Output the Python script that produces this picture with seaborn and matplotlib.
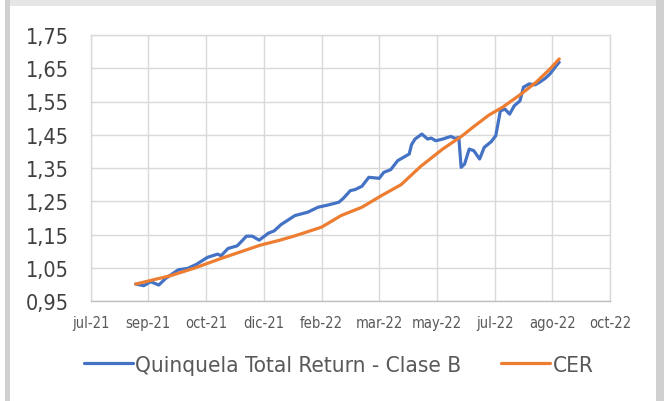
import matplotlib
matplotlib.use("Agg")
import matplotlib.pyplot as plt
from matplotlib.patches import Rectangle
import seaborn as sns
import pandas as pd

# ---- data ----
fund_dates = ["2021-08-28", "2021-09-04", "2021-09-10", "2021-09-17", "2021-09-23",
              "2021-10-04", "2021-10-12", "2021-10-20", "2021-10-29", "2021-11-07",
              "2021-11-10", "2021-11-16", "2021-11-24", "2021-12-02", "2021-12-07",
              "2021-12-13", "2021-12-21", "2021-12-26", "2022-01-01", "2022-01-13",
              "2022-01-24", "2022-02-02", "2022-02-11", "2022-02-20", "2022-02-24",
              "2022-03-02", "2022-03-06", "2022-03-12", "2022-03-18", "2022-03-27",
              "2022-03-31", "2022-04-06", "2022-04-12", "2022-04-22", "2022-04-24",
              "2022-04-27", "2022-05-03", "2022-05-08", "2022-05-11", "2022-05-15",
              "2022-05-21", "2022-05-28", "2022-06-01", "2022-06-04", "2022-06-06",
              "2022-06-09", "2022-06-13", "2022-06-17", "2022-06-22", "2022-06-26",
              "2022-07-02", "2022-07-06", "2022-07-10", "2022-07-14", "2022-07-18",
              "2022-07-22", "2022-07-27", "2022-07-30", "2022-08-04", "2022-08-09",
              "2022-08-13", "2022-08-18", "2022-08-22", "2022-08-28", "2022-08-30"]
fund_values = [1.001, 0.996, 1.008, 0.998, 1.018,
               1.044, 1.048, 1.061, 1.081, 1.091,
               1.086, 1.108, 1.116, 1.145, 1.145,
               1.133, 1.154, 1.161, 1.180, 1.207,
               1.217, 1.232, 1.239, 1.247, 1.259,
               1.282, 1.285, 1.295, 1.322, 1.319,
               1.337, 1.345, 1.372, 1.392, 1.420,
               1.437, 1.452, 1.437, 1.440, 1.432,
               1.437, 1.445, 1.439, 1.442, 1.352,
               1.362, 1.407, 1.402, 1.377, 1.412,
               1.429, 1.447, 1.522, 1.527, 1.512,
               1.537, 1.552, 1.593, 1.603, 1.600,
               1.608, 1.620, 1.633, 1.660, 1.668]

cer_dates = ["2021-08-28", "2021-09-27", "2021-10-18", "2021-11-10", "2021-12-14",
             "2021-12-31", "2022-01-13", "2022-02-05", "2022-02-22", "2022-03-12",
             "2022-03-29", "2022-04-15", "2022-05-02", "2022-05-21", "2022-06-07",
             "2022-06-16", "2022-06-30", "2022-07-12", "2022-07-27", "2022-08-10",
             "2022-08-22", "2022-08-30"]
cer_values = [1.001, 1.026, 1.049, 1.078, 1.118,
              1.133, 1.146, 1.172, 1.207, 1.232,
              1.267, 1.300, 1.355, 1.407, 1.447,
              1.472, 1.509, 1.533, 1.570, 1.608,
              1.648, 1.678]

tick_dates = ["2021-07-20", "2021-09-08", "2021-10-28", "2021-12-17", "2022-02-05",
              "2022-03-27", "2022-05-16", "2022-07-05", "2022-08-24", "2022-10-13"]
tick_labels = ["jul-21", "sep-21", "oct-21", "dic-21", "feb-22",
               "mar-22", "may-22", "jul-22", "ago-22", "oct-22"]
y_ticks = [0.95, 1.05, 1.15, 1.25, 1.35, 1.45, 1.55, 1.65, 1.75]

series_names = ["Quinquela Total Return - Clase B", "CER"]
colors = ["#4472C4", "#ED7D31"]

# ---- figure ----
sns.set_style("white")
plt.rcParams['font.family'] = ['DejaVu Sans']
plt.rcParams['font.stretch'] = 'condensed'
text_color = "#595959"

fig = plt.figure(figsize=(6.64, 4.02), dpi=100)
fig.patch.set_facecolor("white")
fig.patches.append(Rectangle((5/664, 0), 5/664, 1, transform=fig.transFigure,
                             facecolor="#D0D0D0", edgecolor="none", zorder=0))
fig.patches.append(Rectangle((656/664, 0), 8/664, 1, transform=fig.transFigure,
                             facecolor="#D0D0D0", edgecolor="none", zorder=0))
fig.patches.append(Rectangle((10/664, 1 - 7/402), 646/664, 7/402, transform=fig.transFigure,
                             facecolor="#E6E6E6", edgecolor="none", zorder=0))

ax = fig.add_axes([90.7/664, 1 - 302/402, (610 - 90.7)/664, (302 - 36)/402])

df_f = pd.DataFrame({"date": pd.to_datetime(fund_dates), "value": fund_values})
df_c = pd.DataFrame({"date": pd.to_datetime(cer_dates), "value": cer_values})

sns.lineplot(data=df_f, x="date", y="value", ax=ax, color=colors[0], lw=2.3,
             label=series_names[0], zorder=3)
sns.lineplot(data=df_c, x="date", y="value", ax=ax, color=colors[1], lw=2.3,
             label=series_names[1], zorder=4)

tdates = pd.to_datetime(tick_dates)
ax.set_xlim(tdates[0], tdates[-1])
ax.set_ylim(0.95, 1.75)
ax.set_xticks(tdates)
ax.set_xticklabels(tick_labels)
ax.set_yticks(y_ticks)
ax.set_yticklabels([f"{v:.2f}".replace(".", ",") for v in y_ticks])
ax.grid(True, color="#D9D9D9", lw=1.0)
ax.set_axisbelow(True)
for s in ["top", "right", "left"]:
    ax.spines[s].set_color("#D9D9D9")
    ax.spines[s].set_linewidth(1.0)
ax.spines["bottom"].set_color("#BFBFBF")
ax.spines["bottom"].set_linewidth(1.0)
ax.set_xlabel("")
ax.set_ylabel("")
ax.tick_params(axis="y", labelsize=15.5, colors="#404040", length=0, pad=16)
ax.tick_params(axis="x", labelsize=10.5, colors=text_color, length=0, pad=10)

handles, labels = ax.get_legend_handles_labels()
ax.legend_.remove()
leg = fig.legend(handles, labels, loc="center", bbox_to_anchor=(0.51, 0.09),
                 ncol=2, frameon=False, fontsize=16.2, handlelength=2.2,
                 columnspacing=1.75, handletextpad=0.1)
for t in leg.get_texts():
    t.set_color(text_color)

fig.savefig("out.png", dpi=100)
